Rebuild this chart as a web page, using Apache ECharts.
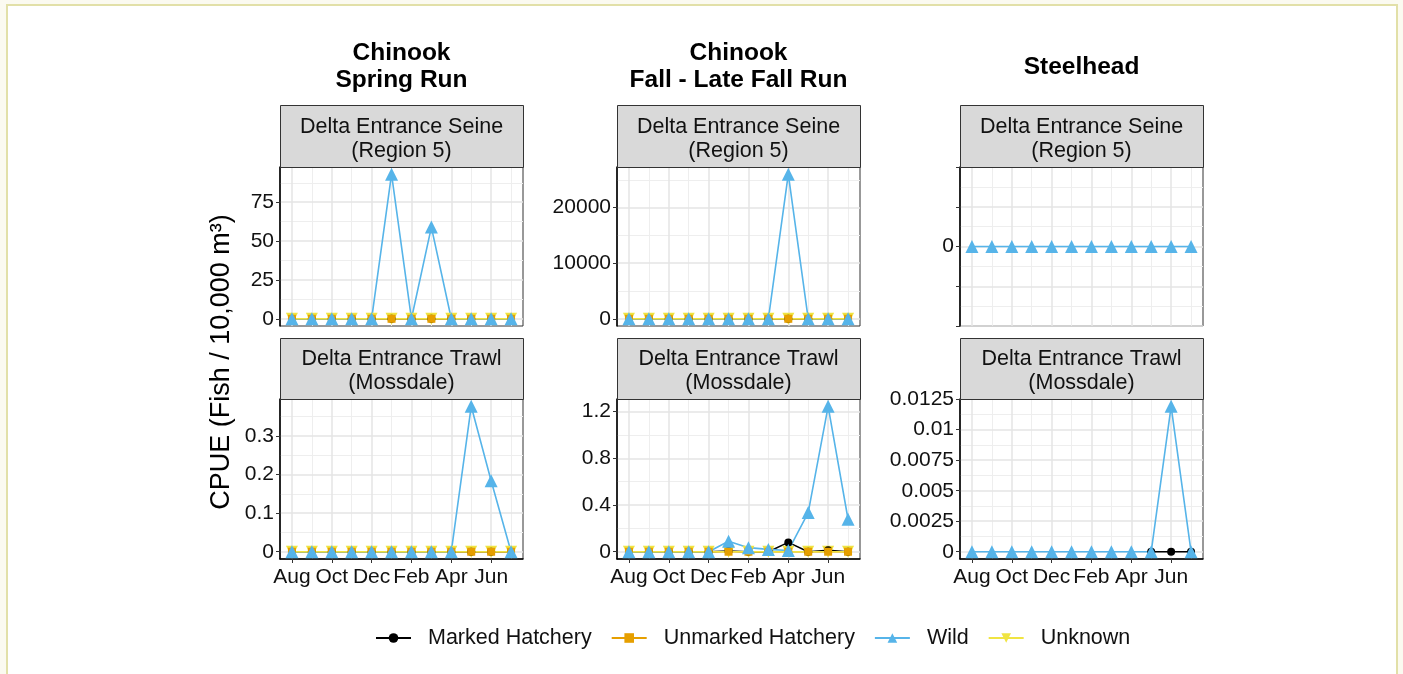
<!DOCTYPE html>
<html>
<head>
<meta charset="utf-8">
<script src="https://cdn.jsdelivr.net/npm/echarts@6/dist/echarts.min.js"></script>
<style>
  html, body { margin: 0; padding: 0; width: 1403px; height: 674px; overflow: hidden; background: #fbfaf0; }
  #frame { position: absolute; left: 6px; top: 4px; width: 1388px; height: 700px; border: 2px solid #e2e0a8; border-bottom: none; background: #ffffff; }
  #chart { position: absolute; left: 0; top: 0; width: 1403px; height: 674px; }
</style>
</head>
<body>
<div id="frame"></div>
<div id="chart"></div>
<script>
// Sampling months, August through July
const months = ['Aug', 'Sep', 'Oct', 'Nov', 'Dec', 'Jan', 'Feb', 'Mar', 'Apr', 'May', 'Jun', 'Jul'];
const labelledMonths = ['Aug', 'Oct', 'Dec', 'Feb', 'Apr', 'Jun'];
const runTitles = ['Chinook\nSpring Run', 'Chinook\nFall - Late Fall Run', 'Steelhead'];
const gearTitles = ['Delta Entrance Seine\n(Region 5)', 'Delta Entrance Trawl\n(Mossdale)'];
const origins = ['Marked Hatchery', 'Unmarked Hatchery', 'Wild', 'Unknown'];
const yTitle = 'CPUE (Fish / 10,000 m\u00B3)';

// Chinook spring run – seine
const springSeineMarked   = [0, 0, 0, 0, 0, 0, 0, 0, 0, 0, 0, 0];
const springSeineUnmarked = [0, 0, 0, 0, 0, 0, 0, 0, 0, 0, 0, 0];
const springSeineWild     = [0, 0, 0, 0, 0, 93, 0, 59, 0, 0, 0, 0];
const springSeineUnknown  = [0, 0, 0, 0, 0, 0, 0, 0, 0, 0, 0, 0];
const springSeineTicks  = [0, 25, 50, 75];
const springSeineLabels = ['0', '25', '50', '75'];

// Chinook spring run – trawl
const springTrawlMarked   = [0, 0, 0, 0, 0, 0, 0, 0, 0, 0, 0, 0];
const springTrawlUnmarked = [0, 0, 0, 0, 0, 0, 0, 0, 0, 0, 0, 0];
const springTrawlWild     = [0, 0, 0, 0, 0, 0, 0, 0, 0, 0.377, 0.184, 0];
const springTrawlUnknown  = [0, 0, 0, 0, 0, 0, 0, 0, 0, 0, 0, 0];
const springTrawlTicks  = [0, 0.1, 0.2, 0.3];
const springTrawlLabels = ['0', '0.1', '0.2', '0.3'];

// Chinook fall / late-fall run – seine
const fallSeineMarked   = [0, 0, 0, 0, 0, 0, 0, 0, 0, 0, 0, 0];
const fallSeineUnmarked = [0, 0, 0, 0, 0, 0, 0, 0, 0, 0, 0, 0];
const fallSeineWild     = [0, 0, 0, 0, 0, 0, 0, 0, 26000, 0, 0, 0];
const fallSeineUnknown  = [0, 0, 0, 0, 0, 0, 0, 0, 0, 0, 0, 0];
const fallSeineTicks  = [0, 10000, 20000];
const fallSeineLabels = ['0', '10000', '20000'];

// Chinook fall / late-fall run – trawl
const fallTrawlMarked   = [0, 0, 0, 0, 0, 0.006, 0, 0, 0.08, 0, 0.012, 0];
const fallTrawlUnmarked = [0, 0, 0, 0, 0, 0, 0, 0, 0, 0, 0, 0];
const fallTrawlWild     = [0, 0, 0, 0, 0, 0.09, 0.035, 0.02, 0.01, 0.335, 1.245, 0.278];
const fallTrawlUnknown  = [0, 0, 0, 0, 0, 0, 0, 0, 0, 0, 0, 0];
const fallTrawlTicks  = [0, 0.4, 0.8, 1.2];
const fallTrawlLabels = ['0', '0.4', '0.8', '1.2'];

// Steelhead – seine
const steelSeineMarked   = [null, null, null, null, null, null, null, null, null, null, null, null];
const steelSeineUnmarked = [null, null, null, null, null, null, null, null, null, null, null, null];
const steelSeineWild     = [0, 0, 0, 0, 0, 0, 0, 0, 0, 0, 0, 0];
const steelSeineUnknown  = [null, null, null, null, null, null, null, null, null, null, null, null];
const steelSeineTicks  = [-0.05, -0.025, 0, 0.025, 0.05];
const steelSeineLabels = ['', '', '0', '', ''];

// Steelhead – trawl
const steelTrawlMarked   = [null, null, null, null, null, null, null, null, null, 0, 0, 0];
const steelTrawlUnmarked = [null, null, null, null, null, null, null, null, null, null, null, null];
const steelTrawlWild     = [0, 0, 0, 0, 0, 0, 0, 0, 0, 0, 0.01192, 0];
const steelTrawlUnknown  = [null, null, null, null, null, null, null, null, null, null, null, null];
const steelTrawlTicks  = [0, 0.0025, 0.005, 0.0075, 0.01, 0.0125];
const steelTrawlLabels = ['0', '0.0025', '0.005', '0.0075', '0.01', '0.0125'];

const FONT = '"Liberation Sans", Arial, Helvetica, sans-serif';
const TEXT = '#111111';

const colLeft = [280, 617, 960];
const colWidth = 243;
const rowTop = [167, 399];
const rowHeight = [159, 160];
const stripTop = [105, 338];

const originStyles = [
  { color: '#000000', symbol: 'circle', size: 8, rotate: 0 },
  { color: '#E69F00', symbol: 'rect', size: 8, rotate: 0 },
  { color: '#56B4E9', symbol: 'triangle', size: 13, rotate: 0 },
  { color: '#F0E442', symbol: 'triangle', size: 12, rotate: 180 }
];
// lines stack in legend order; markers put Unknown underneath, Wild on top
const pointOrder = [3, 0, 1, 2];

const panels = [
  { col: 0, row: 0, ticks: springSeineTicks, labels: springSeineLabels,
    values: [springSeineMarked, springSeineUnmarked, springSeineWild, springSeineUnknown] },
  { col: 0, row: 1, ticks: springTrawlTicks, labels: springTrawlLabels,
    values: [springTrawlMarked, springTrawlUnmarked, springTrawlWild, springTrawlUnknown] },
  { col: 1, row: 0, ticks: fallSeineTicks, labels: fallSeineLabels,
    values: [fallSeineMarked, fallSeineUnmarked, fallSeineWild, fallSeineUnknown] },
  { col: 1, row: 1, ticks: fallTrawlTicks, labels: fallTrawlLabels,
    values: [fallTrawlMarked, fallTrawlUnmarked, fallTrawlWild, fallTrawlUnknown] },
  { col: 2, row: 0, ticks: steelSeineTicks, labels: steelSeineLabels,
    values: [steelSeineMarked, steelSeineUnmarked, steelSeineWild, steelSeineUnknown] },
  { col: 2, row: 1, ticks: steelTrawlTicks, labels: steelTrawlLabels,
    values: [steelTrawlMarked, steelTrawlUnmarked, steelTrawlWild, steelTrawlUnknown] }
];

// 5% padding around the data range, like a default continuous scale
function paddedRange(seriesList) {
  const vals = [].concat(...seriesList).filter(v => v !== null);
  const lo = Math.min(0, ...vals), hi = Math.max(...vals);
  if (hi === lo) return [lo - 0.05, hi + 0.05];
  const pad = (hi - lo) * 0.05;
  return [lo - pad, hi + pad];
}
function midpoints(ticks, lo, hi) {
  const step = ticks[1] - ticks[0];
  const out = [];
  for (let v = ticks[0] - step / 2; v <= hi + 1e-12; v += step) {
    if (v >= lo - 1e-12) out.push(+v.toPrecision(10));
  }
  return out;
}

const monthIdx = labelledMonths.map(m => months.indexOf(m));
const oddIdx = months.map((m, i) => i).filter(i => monthIdx.indexOf(i) < 0);

const grids = [], xAxes = [], yAxes = [], series = [], graphics = [];
const majorGrid = { color: '#e4e4e4', width: 1.5 };
const minorGrid = { color: '#eeeeee', width: 1 };

panels.forEach((p, k) => {
  const left = colLeft[p.col], top = rowTop[p.row], height = rowHeight[p.row];
  const bottomRow = p.row === 1;
  grids.push({ left: left, top: top, width: colWidth, height: height, show: true,
    backgroundColor: '#ffffff', borderColor: '#333333', borderWidth: 1, containLabel: false, z: 0 });
  const [ymin, ymax] = paddedRange(p.values);

  // main x axis: labelled months, ticks and major grid
  xAxes.push({ type: 'value', gridIndex: k, min: -0.6, max: 11.6,
    axisLine: { show: bottomRow, onZero: false, lineStyle: { color: '#000000', width: 1.5 } },
    axisTick: { show: bottomRow, customValues: monthIdx, length: 4, lineStyle: { color: '#333333', width: 1 } },
    axisLabel: { show: bottomRow, customValues: monthIdx, margin: 8, color: TEXT, fontSize: 21, fontFamily: FONT,
      formatter: v => months[Math.round(v)] },
    splitLine: { show: true, lineStyle: majorGrid }, z: 1 });
  // secondary x axis: minor grid at the unlabelled months
  xAxes.push({ type: 'value', gridIndex: k, min: -0.6, max: 11.6,
    axisLine: { show: false }, axisLabel: { show: false },
    axisTick: { show: false, customValues: oddIdx },
    splitLine: { show: true, lineStyle: minorGrid }, z: 0 });

  const fmt = v => {
    const i = p.ticks.findIndex(t => Math.abs(t - v) < 1e-9);
    return i >= 0 ? p.labels[i] : '';
  };
  yAxes.push({ type: 'value', gridIndex: k, min: ymin, max: ymax,
    axisLine: { show: true, onZero: false, lineStyle: { color: '#000000', width: 1.5 } },
    axisTick: { show: true, customValues: p.ticks, length: 4, lineStyle: { color: '#333333', width: 1 } },
    axisLabel: { show: true, customValues: p.ticks, margin: 6, color: TEXT, fontSize: 21, fontFamily: FONT, formatter: fmt },
    splitLine: { show: true, lineStyle: majorGrid }, z: 1 });
  yAxes.push({ type: 'value', gridIndex: k, min: ymin, max: ymax,
    axisLine: { show: false }, axisLabel: { show: false },
    axisTick: { show: false, customValues: midpoints(p.ticks, ymin, ymax) },
    splitLine: { show: true, lineStyle: minorGrid }, z: 0 });

  // connecting lines (these also carry the legend icon)
  p.values.forEach((vals, o) => {
    const st = originStyles[o];
    series.push({
      type: 'line', name: origins[o], xAxisIndex: 2 * k, yAxisIndex: 2 * k,
      data: vals.map((v, i) => [i, v === null ? '-' : v]),
      symbol: st.symbol, symbolSize: st.size, symbolRotate: st.rotate, showSymbol: false,
      itemStyle: { color: st.color }, lineStyle: { color: st.color, width: 1.6 },
      clip: false, silent: true, z: 2
    });
  });
  // point markers
  pointOrder.forEach((o, rank) => {
    const st = originStyles[o];
    series.push({
      type: 'scatter', name: origins[o], xAxisIndex: 2 * k, yAxisIndex: 2 * k,
      data: p.values[o].map((v, i) => [i, v === null ? '-' : v]),
      symbol: st.symbol, symbolSize: st.size, symbolRotate: st.rotate,
      itemStyle: { color: st.color, opacity: 1 }, clip: false, silent: true, z: 3 + rank
    });
  });

  // facet strip
  const sTop = stripTop[p.row];
  graphics.push({ type: 'rect', silent: true, z: 10,
    shape: { x: left + 0.5, y: sTop + 0.5, width: colWidth, height: top - sTop },
    style: { fill: '#d9d9d9', stroke: '#333333', lineWidth: 1 } });
  graphics.push({ type: 'text', silent: true, z: 11,
    style: { text: gearTitles[p.row], x: left + colWidth / 2, y: sTop + (top - sTop) / 2 + 3,
      align: 'center', verticalAlign: 'middle', fill: TEXT, font: '21.5px ' + FONT, lineHeight: 24 } });
});

// column titles
runTitles.forEach((t, c) => {
  graphics.push({ type: 'text', silent: true, z: 11,
    style: { text: t, x: colLeft[c] + colWidth / 2, y: 67,
      align: 'center', verticalAlign: 'middle', fill: '#000000', font: 'bold 24.5px ' + FONT, lineHeight: 27 } });
});

// shared y-axis title
graphics.push({ type: 'text', silent: true, z: 11, x: 222, y: 362, rotation: Math.PI / 2,
  style: { text: yTitle, x: 0, y: 0, align: 'center', verticalAlign: 'middle', fill: '#000000', font: '27px ' + FONT } });

const chart = echarts.init(document.getElementById('chart'), null, { renderer: 'canvas' });
chart.setOption({
  animation: false,
  backgroundColor: 'transparent',
  grid: grids,
  xAxis: xAxes,
  yAxis: yAxes,
  series: series,
  graphic: graphics,
  legend: {
    data: origins, left: 370, top: 622, orient: 'horizontal',
    itemWidth: 35, itemHeight: 12, itemGap: 19, selectedMode: false,
    textStyle: { color: TEXT, fontSize: 21.5, fontFamily: FONT, padding: [0, 0, 0, 12] }
  },
  tooltip: { show: false }
});
</script>
</body>
</html>
